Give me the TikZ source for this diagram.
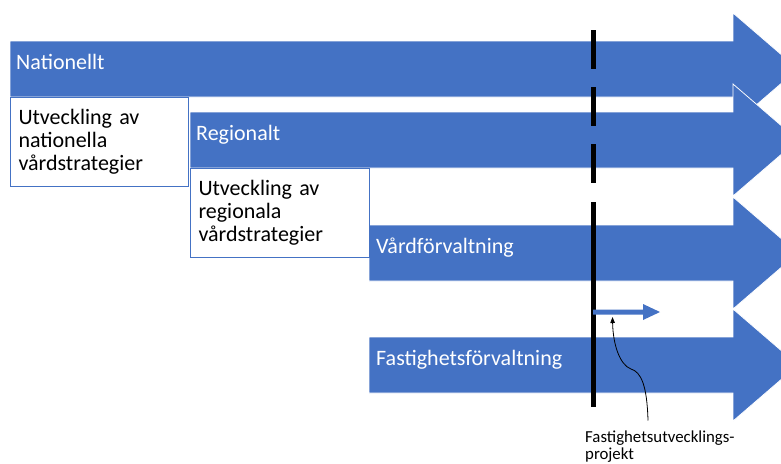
\documentclass[tikz,border=0pt]{standalone}
\usepackage{fontspec}
\setmainfont{Carlito}
\usetikzlibrary{arrows.meta,calc}
\definecolor{ofblue}{HTML}{4472C4}
\tikzset{
  band/.style={fill=ofblue, draw=white, line width=0.75pt},
  bandtext/.style={anchor=base west, inner sep=0pt, text=white, font=\fontsize{22}{23}\selectfont},
  txtbox/.style={draw=ofblue, line width=1pt, fill=white, anchor=north west, align=left,
     text width=162pt, inner xsep=8pt, inner ysep=0pt, font=\fontsize{22}{23}\selectfont},
  divider/.style={line width=5pt, draw=black},
  note/.style={anchor=north west, inner sep=0pt, align=left, font=\fontsize{16.8}{16.5}\selectfont}
}
\begin{document}
\begin{tikzpicture}[x=1pt,y=-1pt]
\useasboundingbox (0,0) rectangle (781,463);
\clip (0,0) rectangle (781,463);
% arrows
\path[band] (10,41) -- (733,41) -- (733,13) -- (798,69) -- (733,125) -- (733,97) -- (10,97) -- cycle;
\path[band] (190,112) -- (733,112) -- (733,84) -- (798,140) -- (733,196) -- (733,168) -- (190,168) -- cycle;
\path[band] (369,225) -- (733,225) -- (733,197) -- (798,253) -- (733,309) -- (733,281) -- (369,281) -- cycle;
\path[band] (369,337) -- (733,337) -- (733,309) -- (798,365) -- (733,421) -- (733,393) -- (369,393) -- cycle;
% labels on arrows
\node[bandtext] (nat) at (16,69) {Nationellt};
\node[bandtext] (reg) at (196,140) {Regionalt};
\node[bandtext] (vard) at (376,253) {Vårdförvaltning};
\node[bandtext] (fast) at (376,365) {Fastighetsförvaltning};
% white boxes
\node[txtbox, minimum height=89pt] (b1) at (10,97) {Utveckling av\\nationella\\vårdstrategier};
\node[txtbox, minimum height=89pt, text width=163pt] (b2) at (190,168) {Utveckling av\\regionala\\vårdstrategier};
% divider
\draw[divider, dash pattern=on 39pt off 18pt] (593,30) -- (593,183);
\draw[divider] (593,202) -- (593,407);
% small project arrow
\fill[ofblue] (593,309.5) -- (643,309.5) -- (643,304) -- (660,312) -- (643,320) -- (643,314.5) -- (593,314.5) -- cycle;
\coordinate (ptip) at (612.5,317);
% note
\node[note] (lbl) at (585,431) {Fastighetsutvecklings-\\projekt};
\coordinate (lstart) at ($(lbl.north west)+(63,-10.5)$);
\draw[line width=0.8pt, -{Triangle[length=6pt,width=4.5pt]}] (lstart) .. controls (647,385) and (641,372) .. (631,369) .. controls (620,365) and (613,345) .. (ptip);
\end{tikzpicture}
\end{document}
